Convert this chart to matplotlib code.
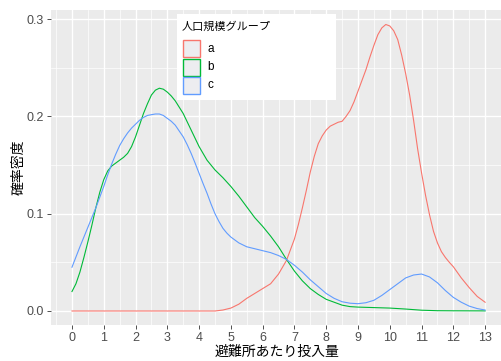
import numpy as np
import matplotlib
matplotlib.use("Agg")
import matplotlib.pyplot as plt
from matplotlib.patches import Rectangle

plt.rcParams['font.family'] = ['Liberation Sans', 'Noto Sans CJK JP', 'DejaVu Sans']

# 読み取った密度曲線の値
groups = ["a", "b", "c"]
colors = ["#F8766D", "#00BA38", "#619CFF"]

x_a = [0, 1, 2, 3, 4, 4.5, 4.75, 5.0, 5.25, 5.5, 5.75, 6.0, 6.25, 6.5, 6.75, 7.0, 7.125,
       7.25, 7.375, 7.5, 7.625, 7.75, 7.875, 8.0, 8.125, 8.25, 8.375, 8.5, 8.625, 8.75,
       8.875, 9.0, 9.125, 9.25, 9.375, 9.5, 9.625, 9.75, 9.875, 10.0, 10.125, 10.25,
       10.375, 10.5, 10.625, 10.75, 10.875, 11.0, 11.125, 11.25, 11.375, 11.5, 11.625,
       11.75, 11.875, 12.0, 12.25, 12.5, 12.75, 13.0]
y_a = [0, 0, 0, 0, 0, 0, 0.001, 0.003, 0.007, 0.013, 0.018, 0.023, 0.028, 0.038, 0.052,
       0.074, 0.089, 0.106, 0.124, 0.143, 0.159, 0.172, 0.180, 0.186, 0.190, 0.192, 0.194,
       0.195, 0.200, 0.206, 0.215, 0.226, 0.237, 0.248, 0.261, 0.273, 0.284, 0.291, 0.2945,
       0.293, 0.288, 0.279, 0.263, 0.244, 0.222, 0.196, 0.167, 0.142, 0.119, 0.099, 0.082,
       0.070, 0.061, 0.055, 0.050, 0.0455, 0.034, 0.024, 0.015, 0.009]

x_b = [0, 0.125, 0.25, 0.375, 0.5, 0.625, 0.75, 0.875, 1.0, 1.125, 1.25, 1.375, 1.5,
       1.625, 1.75, 1.875, 2.0, 2.125, 2.25, 2.375, 2.5, 2.625, 2.75, 2.875, 3.0, 3.125,
       3.25, 3.5, 3.75, 4.0, 4.25, 4.5, 4.75, 5.0, 5.25, 5.5, 5.75, 6.0, 6.25, 6.5, 6.75,
       7.0, 7.25, 7.5, 7.75, 8.0, 8.25, 8.5, 8.75, 9.0, 9.5, 10.0, 10.5, 11.0, 11.5, 12.0,
       13.0]
y_b = [0.020, 0.028, 0.040, 0.055, 0.071, 0.088, 0.106, 0.122, 0.135, 0.144, 0.149, 0.152,
       0.155, 0.158, 0.162, 0.169, 0.179, 0.191, 0.203, 0.213, 0.222, 0.227, 0.229, 0.228,
       0.225, 0.221, 0.216, 0.203, 0.186, 0.169, 0.155, 0.145, 0.137, 0.128, 0.118, 0.107,
       0.096, 0.087, 0.077, 0.066, 0.053, 0.041, 0.031, 0.023, 0.017, 0.012, 0.009, 0.006,
       0.0045, 0.004, 0.0035, 0.003, 0.002, 0.0008, 0.0003, 0.0002, 0.0001]

x_c = [0, 0.25, 0.5, 0.75, 1.0, 1.125, 1.25, 1.375, 1.5, 1.625, 1.75, 1.875, 2.0, 2.125,
       2.25, 2.375, 2.5, 2.625, 2.75, 2.875, 3.0, 3.125, 3.25, 3.375, 3.5, 3.625, 3.75,
       3.875, 4.0, 4.125, 4.25, 4.375, 4.5, 4.625, 4.75, 4.875, 5.0, 5.25, 5.5, 5.75, 6.0,
       6.25, 6.5, 6.75, 7.0, 7.25, 7.5, 7.75, 8.0, 8.25, 8.5, 8.75, 9.0, 9.25, 9.5, 9.75,
       10.0, 10.25, 10.5, 10.75, 11.0, 11.25, 11.5, 11.75, 12.0, 12.25, 12.5, 12.75, 13.0]
y_c = [0.045, 0.066, 0.086, 0.106, 0.128, 0.140, 0.151, 0.161, 0.170, 0.177, 0.183, 0.188,
       0.192, 0.196, 0.199, 0.201, 0.2018, 0.2025, 0.2025, 0.201, 0.198, 0.195, 0.191,
       0.185, 0.179, 0.171, 0.162, 0.152, 0.1415, 0.131, 0.121, 0.110, 0.100, 0.092, 0.085,
       0.080, 0.076, 0.070, 0.066, 0.064, 0.062, 0.060, 0.057, 0.053, 0.047, 0.040, 0.032,
       0.025, 0.018, 0.013, 0.0095, 0.008, 0.0075, 0.0085, 0.011, 0.016, 0.022, 0.028,
       0.034, 0.037, 0.038, 0.035, 0.029, 0.021, 0.014, 0.009, 0.005, 0.0025, 0.001]

xs = [x_a, x_b, x_c]
ys = [y_a, y_b, y_c]

x_ticks = list(range(0, 14))
y_ticks = [0.0, 0.1, 0.2, 0.3]

fig = plt.figure(figsize=(5.01, 3.61), dpi=100)
ax = fig.add_axes([51 / 501, 1 - 325 / 361, 450 / 501, 315 / 361])
ax.set_facecolor("#EBEBEB")

for xv, yv, c in zip(xs, ys, colors):
    ax.plot(xv, yv, color=c, lw=0.8, zorder=3, solid_joinstyle="round")

ax.set_xlim(-0.66, 13.5)
ax.set_ylim(-0.0144, 0.3094)
ax.set_xticks(x_ticks)
ax.set_yticks(y_ticks)
ax.set_yticklabels([f"{v:.1f}" for v in y_ticks])
ax.set_xticks(np.arange(-0.5, 13.6, 1), minor=True)
ax.set_yticks([0.05, 0.15, 0.25], minor=True)
ax.grid(which="major", color="white", lw=1.0, zorder=0)
ax.grid(which="minor", color="white", lw=0.5, zorder=0)
ax.set_axisbelow(True)
for s in ax.spines.values():
    s.set_visible(False)
ax.tick_params(which="major", length=3, width=0.6, color="#333333",
               labelsize=9, labelcolor="#4D4D4D", pad=2)
ax.tick_params(which="minor", length=0)

ax.set_xlabel("避難所あたり投入量", fontsize=10)
ax.set_ylabel("確率密度", fontsize=10)
ax.xaxis.set_label_coords(0.503, -0.064)
ax.yaxis.set_label_coords(-0.057, 0.5)

# 凡例
fig.add_artist(Rectangle((177 / 501, 1 - 100 / 361), 159 / 501, 86 / 361,
                         transform=fig.transFigure, facecolor="white", edgecolor="none"))
fig.text(182 / 501, 1 - 27 / 361, "人口規模グループ", fontsize=8, va="center", ha="left")
key_tops = [40, 59, 77]
for g, c, t in zip(groups, colors, key_tops):
    fig.add_artist(Rectangle((183 / 501, 1 - (t + 17) / 361), 17 / 501, 17 / 361,
                             transform=fig.transFigure, facecolor="#EDEDF0",
                             edgecolor=c, lw=1.0))
    fig.text(207 / 501, 1 - (t + 8.5) / 361, g, fontsize=8.5, va="center", ha="left")

fig.savefig("out.png", dpi=100)
